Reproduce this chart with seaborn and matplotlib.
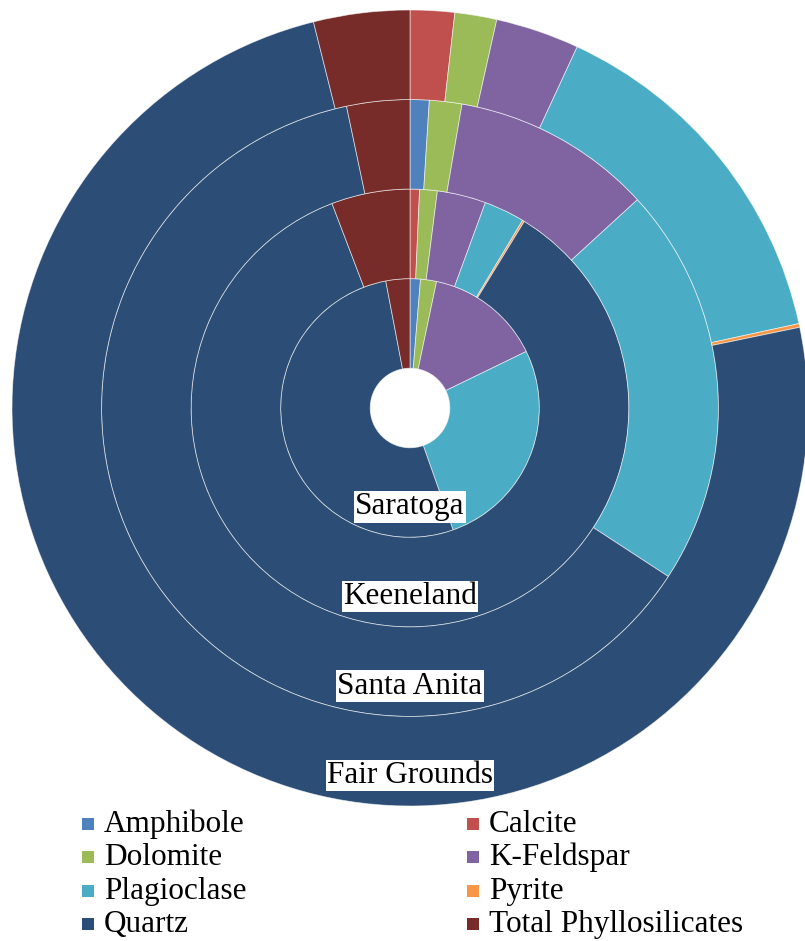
import matplotlib
matplotlib.use("Agg")
import matplotlib.pyplot as plt
from matplotlib import font_manager as fm
from matplotlib.patches import Rectangle
import seaborn as sns

# Mineral composition (%) of track surfaces, one ring per racetrack
minerals = ["Amphibole", "Calcite", "Dolomite", "K-Feldspar",
            "Plagioclase", "Pyrite", "Quartz", "Total Phyllosilicates"]
tracks = ["Saratoga", "Keeneland", "Santa Anita", "Fair Grounds"]  # inner -> outer

saratoga = [1.3, 0.0, 2.0, 14.5, 26.8, 0.0, 52.4, 3.0]
keeneland = [0.0, 0.7, 1.3, 3.6, 3.0, 0.15, 85.45, 5.8]
santa_anita = [1.0, 0.0, 1.7, 10.5, 21.0, 0.0, 62.5, 3.3]
fair_grounds = [0.0, 1.8, 1.7, 3.4, 14.7, 0.15, 74.35, 3.9]

ring_values = [saratoga, keeneland, santa_anita, fair_grounds]

sns.set_theme(style="white")
palette = sns.color_palette(["#4F81BD", "#C0504D", "#9BBB59", "#8064A2",
                             "#4BACC6", "#F79646", "#2C4D75", "#772C2A"])


def serif_font_file():
    """Locate a regular, upright Times-like font file."""
    prefs = ["Tinos", "Liberation Serif", "Times New Roman", "Noto Serif",
             "DejaVu Serif"]
    entries = fm.fontManager.ttflist
    for name in prefs:
        cands = [f for f in entries if f.name == name and f.style == "normal"
                 and f.weight in (400, "normal", "regular")]
        if cands:
            cands.sort(key=lambda f: ("Regular" not in f.fname, len(f.fname)))
            return cands[0].fname
    return fm.findfont(fm.FontProperties(family="serif"))


FONT_FILE = serif_font_file()


def serif(size):
    return fm.FontProperties(fname=FONT_FILE, size=size)


W, H = 805, 941
fig = plt.figure(figsize=(W / 100, H / 100), dpi=100)
fig.patch.set_facecolor("white")

# Doughnut axes: centre at (410, 408) px, outer radius 398 px
cx, cy, R = 410, 408, 398
ax = fig.add_axes([(cx - R) / W, (H - cy - R) / H, 2 * R / W, 2 * R / H])

hole = 0.10
ring_w = (1.0 - hole) / len(tracks)

for i, (track, vals) in enumerate(zip(tracks, ring_values)):
    outer = hole + ring_w * (i + 1)
    keep = [k for k, v in enumerate(vals) if v > 0]
    ax.pie([vals[k] for k in keep],
           colors=[palette[k] for k in keep],
           radius=outer, startangle=90, counterclock=False,
           wedgeprops=dict(width=ring_w, edgecolor=(1, 1, 1, 0.6),
                           linewidth=0.6))
    mid = outer - ring_w / 2
    ax.text(0, -mid - 0.055, track, ha="center", va="baseline",
            fontproperties=serif(22.5), color="black",
            bbox=dict(boxstyle="square,pad=0.04", fc="white", ec="none"))

ax.set_xlim(-1, 1)
ax.set_ylim(-1, 1)
ax.set_aspect("equal")
ax.set_axis_off()

# Legend: two columns, filled row by row
col_x = [82, 467]
row_base = 832
row_step = 33.4
sq = 12
for k, name in enumerate(minerals):
    col, row = k % 2, k // 2
    base = row_base + row * row_step
    x0 = col_x[col]
    fig.add_artist(Rectangle((x0 / W, 1 - (base - 2) / H), sq / W, sq / H,
                             transform=fig.transFigure,
                             facecolor=palette[k], edgecolor="none"))
    fig.text((x0 + sq + 10) / W, 1 - base / H, name, ha="left",
             va="baseline", fontproperties=serif(22.5), color="black")

fig.savefig("out.png", dpi=100, facecolor="white")
